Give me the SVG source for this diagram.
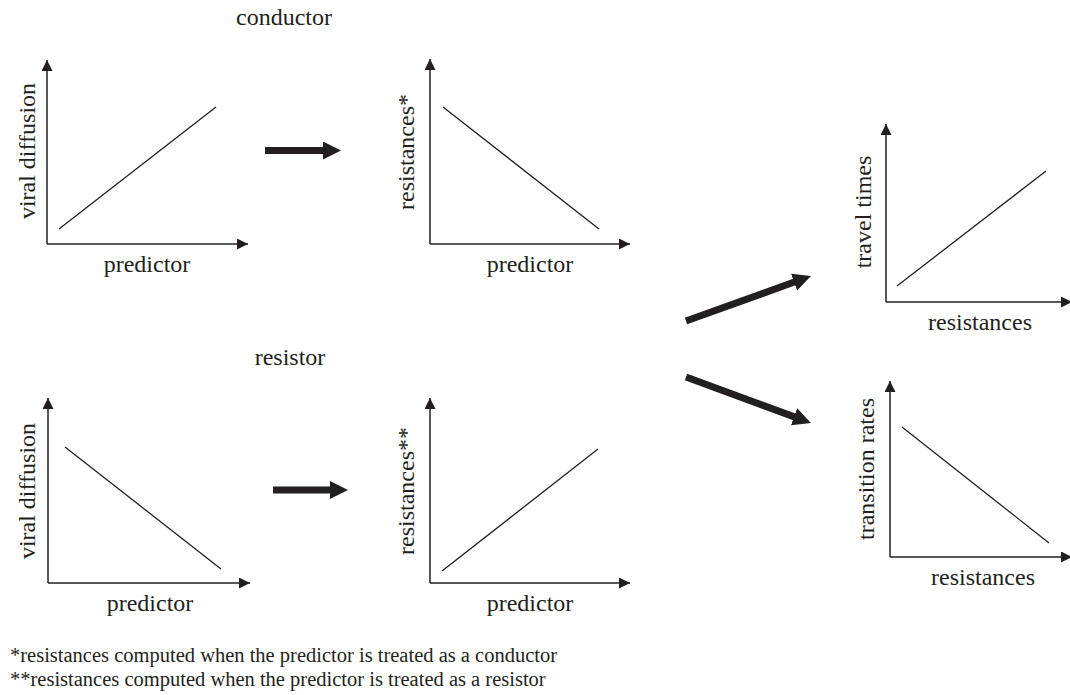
<svg xmlns="http://www.w3.org/2000/svg" width="1070" height="695" viewBox="0 0 1070 695">
<style>
text{font-family:"Liberation Serif","Times New Roman",serif;fill:#231f20;font-size:24px}
.fn{font-size:20.5px}
.ax{stroke:#231f20;stroke-width:1.5;fill:none}
.dl{stroke:#231f20;stroke-width:1.3;fill:none}
.big{stroke:#231f20;stroke-width:7;fill:none}
</style>
<defs>
<marker id="ah" markerUnits="userSpaceOnUse" markerWidth="12" markerHeight="12" refX="11" refY="5.5" orient="auto"><path d="M0,0 L11,5.5 L0,11 z" fill="#231f20"/></marker>
<marker id="bh" markerUnits="userSpaceOnUse" markerWidth="20" markerHeight="20" refX="1" refY="9" orient="auto"><path d="M0,0 L18,9 L0,18 z" fill="#231f20"/></marker>
</defs>
<rect width="1070" height="695" fill="#fff"/>
<text x="284" y="25" text-anchor="middle">conductor</text>
<text x="290" y="365" text-anchor="middle">resistor</text>
<g id="p1">
<path class="ax" d="M47,244 V60" marker-end="url(#ah)"/>
<path class="ax" d="M47,244 H248" marker-end="url(#ah)"/>
<line class="dl" x1="59" y1="229" x2="216" y2="107"/>
<text transform="translate(35,151) rotate(-90)" text-anchor="middle">viral diffusion</text>
<text x="147" y="272" text-anchor="middle">predictor</text>
</g>
<g id="p2">
<path class="ax" d="M430,244 V59" marker-end="url(#ah)"/>
<path class="ax" d="M430,244 H630" marker-end="url(#ah)"/>
<line class="dl" x1="443" y1="107" x2="599" y2="229"/>
<text transform="translate(414,152) rotate(-90)" text-anchor="middle">resistances*</text>
<text x="530" y="272" text-anchor="middle">predictor</text>
</g>
<g id="p3">
<path class="ax" d="M48,583 V398" marker-end="url(#ah)"/>
<path class="ax" d="M48,583 H250" marker-end="url(#ah)"/>
<line class="dl" x1="65" y1="447" x2="221" y2="569"/>
<text transform="translate(35,491) rotate(-90)" text-anchor="middle">viral diffusion</text>
<text x="150" y="611" text-anchor="middle">predictor</text>
</g>
<g id="p4">
<path class="ax" d="M430,583 V398" marker-end="url(#ah)"/>
<path class="ax" d="M430,583 H630" marker-end="url(#ah)"/>
<line class="dl" x1="442" y1="571" x2="598" y2="449"/>
<text transform="translate(414,491) rotate(-90)" text-anchor="middle">resistances**</text>
<text x="530" y="611" text-anchor="middle">predictor</text>
</g>
<g id="p5">
<path class="ax" d="M886,302 V124" marker-end="url(#ah)"/>
<path class="ax" d="M886,302 H1072" marker-end="url(#ah)"/>
<line class="dl" x1="897" y1="286" x2="1046" y2="171"/>
<text transform="translate(871,212) rotate(-90)" text-anchor="middle">travel times</text>
<text x="980" y="330" text-anchor="middle">resistances</text>
</g>
<g id="p6">
<path class="ax" d="M890,557 V381" marker-end="url(#ah)"/>
<path class="ax" d="M890,557 H1072" marker-end="url(#ah)"/>
<line class="dl" x1="902" y1="427" x2="1049" y2="543"/>
<text transform="translate(874,469) rotate(-90)" text-anchor="middle">transition rates</text>
<text x="983" y="585" text-anchor="middle">resistances</text>
</g>
<g id="connectors">
<line class="big" x1="265" y1="150.5" x2="324" y2="150.5" marker-end="url(#bh)"/>
<line class="big" x1="273" y1="490" x2="331" y2="490" marker-end="url(#bh)"/>
<line class="big" x1="686" y1="321" x2="795" y2="281.8" marker-end="url(#bh)"/>
<line class="big" x1="686" y1="377" x2="795" y2="417.1" marker-end="url(#bh)"/>
</g>
<text class="fn" x="10" y="662">*resistances computed when the predictor is treated as a conductor</text>
<text class="fn" x="10" y="686">**resistances computed when the predictor is treated as a resistor</text>
</svg>
